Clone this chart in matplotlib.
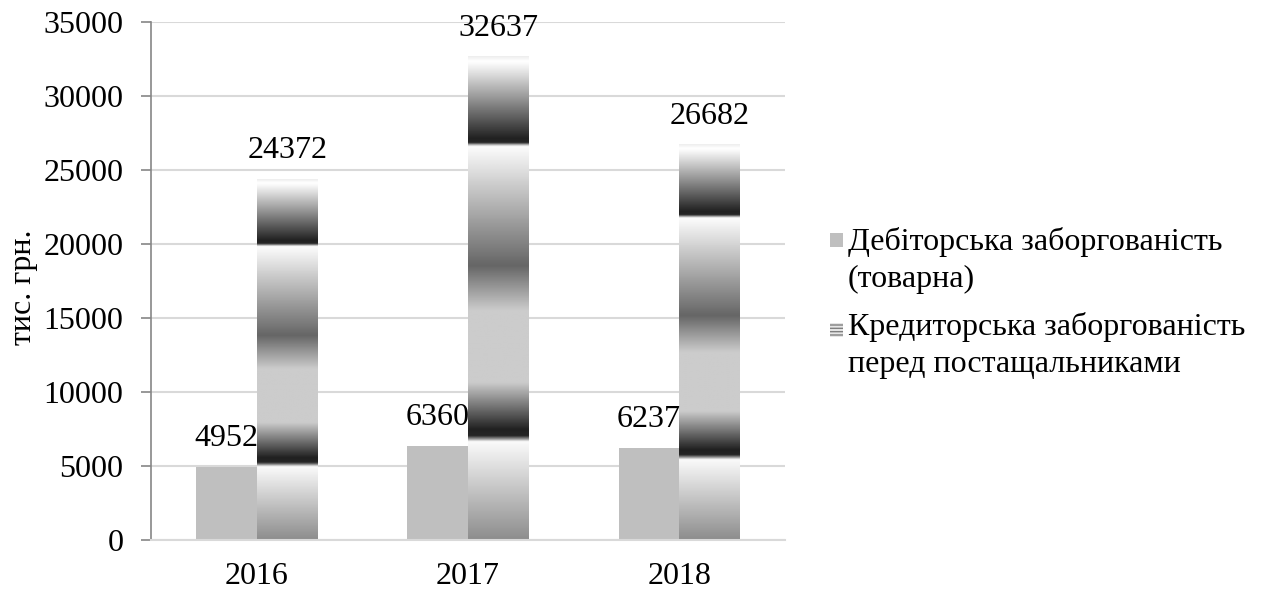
import numpy as np
import matplotlib
matplotlib.use("Agg")
import matplotlib.pyplot as plt
from matplotlib.patches import Rectangle

plt.rcParams['font.family'] = ['Liberation Serif', 'DejaVu Serif']

# Chart data
years = ['2016', '2017', '2018']
receivables = [4952, 6360, 6237]
payables = [24372, 32637, 26682]
series_names = ['Дебіторська заборгованість\n(товарна)',
                'Кредиторська заборгованість\nперед постащальниками']
y_label = 'тис. грн.'

# Gray levels of the striped gradient fill (0 = bottom of bar, 1 = top)
grad_pos = [0.0, 0.203, 0.208, 0.215, 0.228, 0.326, 0.474, 0.567,
            0.814, 0.818, 0.822, 0.83, 0.985, 0.99, 1.0]
grad_val = [0.55, 0.98, 0.62, 0.15, 0.13, 0.8, 0.8, 0.4,
            0.99, 0.62, 0.15, 0.13, 0.98, 1.0, 0.93]

FS = 23

fig = plt.figure(figsize=(12.66, 5.91), dpi=100)
ax = fig.add_axes([0.1193, 0.0863, 0.5008, 0.877])

x = np.arange(len(years))
width = 0.288
bars1 = ax.bar(x - width / 2, receivables, width, color='#bfbfbf', zorder=2)
bars2 = ax.bar(x + width / 2, payables, width, color='none', zorder=2)

# Paint the gradient into each payables bar
rows = np.linspace(0, 1, 600)
column = np.interp(rows, grad_pos, grad_val).reshape(-1, 1)
for p in bars2.patches:
    x0 = p.get_x()
    ax.imshow(column, cmap='gray', vmin=0, vmax=1, aspect='auto',
              origin='lower', interpolation='bilinear',
              extent=(x0, x0 + p.get_width(), 0, p.get_height()), zorder=2)

for bars, vals in ((bars1, receivables), (bars2, payables)):
    for p, v in zip(bars.patches, vals):
        ax.annotate(str(v), (p.get_x() + p.get_width() / 2, v),
                    xytext=(0, 10), textcoords='offset points',
                    ha='center', va='bottom', fontsize=FS)

ax.set_xlim(-0.5, len(years) - 0.5)
ax.set_ylim(0, 35000)
ax.set_yticks(np.arange(0, 35001, 5000))
ax.set_xticks(x)
ax.set_xticklabels(years)
ax.tick_params(axis='y', labelsize=FS, length=7, width=1.2, color='#868686', pad=13)
ax.tick_params(axis='x', labelsize=FS, length=0, pad=16)

ax.yaxis.grid(True, color='#d9d9d9', linewidth=1.5)
ax.set_axisbelow(True)
for s in ('top', 'right'):
    ax.spines[s].set_visible(False)
ax.spines['left'].set_color('#868686')
ax.spines['left'].set_linewidth(1.2)
ax.spines['bottom'].set_color('#d9d9d9')
ax.spines['bottom'].set_linewidth(1.5)

fig.text(23 / 1266, 1 - 287 / 591, y_label, rotation=90,
         ha='center', va='center', fontsize=FS)

# Legend, drawn by hand so the markers sit on the first line of each entry
fig.patches.append(Rectangle((830 / 1266, 1 - 247 / 591), 13 / 1266, 14 / 591,
                             transform=fig.transFigure, facecolor='#bfbfbf',
                             edgecolor='none'))
fig.patches.append(Rectangle((830 / 1266, 1 - 337 / 591), 13 / 1266, 14 / 591,
                             transform=fig.transFigure, facecolor='#e6e6e6',
                             edgecolor='#7f7f7f', linewidth=0, hatch='-----'))
for name, base in zip(series_names, (250, 335)):
    for i, line in enumerate(name.split('\n')):
        fig.text(848 / 1266, 1 - (base + i * 37) / 591, line,
                 ha='left', va='baseline', fontsize=FS)

fig.savefig('out.png', dpi=100)
